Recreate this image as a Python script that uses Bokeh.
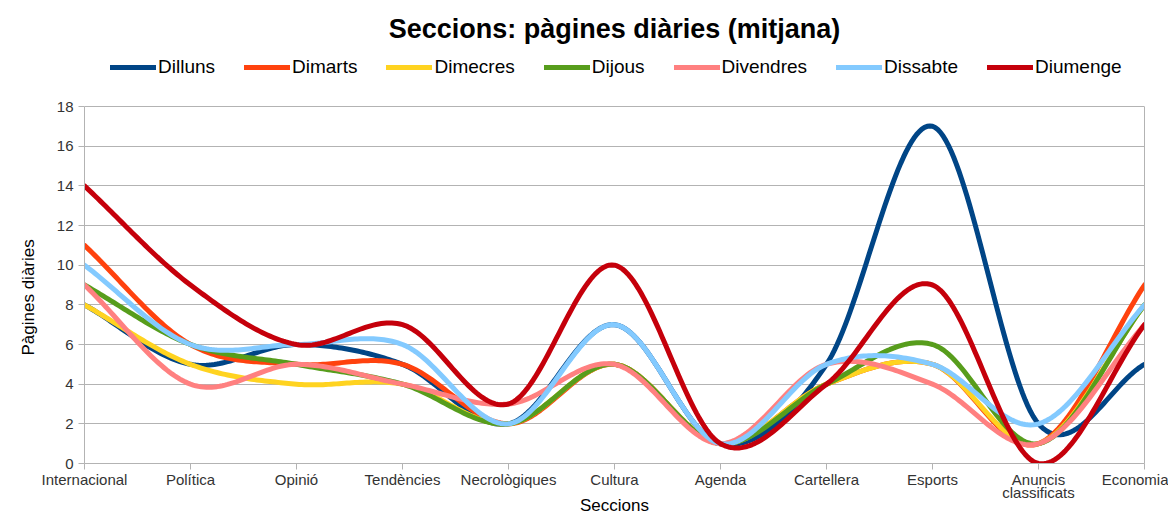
import numpy as np
from bokeh.plotting import figure
from bokeh.models import Range1d, FixedTicker, Legend, LegendItem, LinearAxis, Title
from bokeh.embed import file_html
from bokeh.resources import INLINE

categories = ["Internacional", "Política", "Opinió", "Tendències", "Necrològiques",
              "Cultura", "Agenda", "Cartellera", "Esports", "Anuncis\nclassificats", "Economia"]
y_ticks = [0, 2, 4, 6, 8, 10, 12, 14, 16, 18]

dilluns   = [8, 5, 6, 5, 2, 7, 1, 5, 17, 2, 5]
dimarts   = [11, 6, 5, 5, 2, 5, 1, 4, 5, 1, 9]
dimecres  = [8, 5, 4, 4, 2, 5, 1, 4, 5, 1, 8]
dijous    = [9, 6, 5, 4, 2, 5, 1, 4, 6, 1, 8]
divendres = [9, 4, 5, 4, 3, 5, 1, 5, 4, 1, 7]
dissabte  = [10, 6, 6, 6, 2, 7, 1, 5, 5, 2, 8]
diumenge  = [14, 9, 6, 7, 3, 10, 1, 4, 9, 0, 7]

series_names = ["Dilluns", "Dimarts", "Dimecres", "Dijous", "Divendres", "Dissabte", "Diumenge"]
series_vals = [dilluns, dimarts, dimecres, dijous, divendres, dissabte, diumenge]
colors = ["#004586", "#ff420e", "#ffd320", "#579d1c", "#ff8080", "#83caff", "#c5000b"]

Y_MAX = 18
PX_PER_UNIT = 357 / 18.0
EXTRA_PX = 61
FW = 1060
FH = 357 + EXTRA_PX
Y_TOP = Y_MAX + EXTRA_PX / PX_PER_UNIT


def smooth_curve(xs, ys, n=40):
    """Catmull-Rom (smoothed line) through every data point."""
    xs = np.asarray(xs, float); ys = np.asarray(ys, float)
    m = len(ys)
    tang = np.zeros(m)
    tang[1:-1] = (ys[2:] - ys[:-2]) / 2.0
    tang[0] = ys[1] - ys[0]
    tang[-1] = ys[-1] - ys[-2]
    ox, oy = [], []
    for i in range(m - 1):
        t = np.linspace(0, 1, n, endpoint=(i == m - 2))
        h00 = 2 * t**3 - 3 * t**2 + 1
        h10 = t**3 - 2 * t**2 + t
        h01 = -2 * t**3 + 3 * t**2
        h11 = t**3 - t**2
        dx = xs[i + 1] - xs[i]
        ox.extend(xs[i] + t * dx)
        oy.extend(h00 * ys[i] + h10 * tang[i] + h01 * ys[i + 1] + h11 * tang[i + 1])
    return ox, oy


xpos = list(range(len(categories)))

p = figure(frame_width=FW, frame_height=FH, output_backend="svg", toolbar_location=None,
           x_range=Range1d(0, 10), y_range=Range1d(0, Y_TOP),
           min_border_left=84, min_border_right=24, min_border_bottom=40, min_border_top=45)
p.title.text = "Seccions: pàgines diàries (mitjana)"
p.title.align = "center"
p.title.text_font = "Liberation Sans"
p.title.text_font_size = "27px"
p.title.text_font_style = "bold"
p.title.text_color = "black"
p.title.standoff = 4

items = []
for name, vals, col in zip(series_names, series_vals, colors):
    sx, sy = smooth_curve(xpos, vals)
    r = p.line(sx, sy, line_color=col, line_width=5, line_join="round", line_cap="round")
    items.append(LegendItem(label=name, renderers=[r]))

legend = Legend(items=items, orientation="horizontal", location=(26, FH - 33),
                label_text_font="Liberation Sans", label_text_font_size="19px",
                label_text_color="black",
                label_standoff=2, glyph_width=46, glyph_height=22, spacing=29, padding=2, margin=0,
                border_line_color=None, background_fill_alpha=0)
p.add_layout(legend, "center")

right_axis = LinearAxis(ticker=FixedTicker(ticks=[]), bounds=(0, Y_MAX),
                        axis_line_color="#b3b3b3", major_label_text_font_size="0px",
                        major_tick_line_color=None, minor_tick_line_color=None)
p.add_layout(right_axis, "right")

ylabel = Title(text="Pàgines diàries", align="left", offset=108,
               text_font="Liberation Sans", text_font_size="17px",
               text_font_style="normal", text_color="black", standoff=32)
p.add_layout(ylabel, "left")

p.xaxis.ticker = FixedTicker(ticks=xpos)
p.xaxis.major_label_overrides = {i: c for i, c in enumerate(categories)}
p.yaxis.ticker = FixedTicker(ticks=y_ticks)
p.yaxis.bounds = (0, Y_MAX)
p.xaxis.axis_label = "Seccions"
for ax in (p.xaxis[0], p.yaxis[0]):
    ax.axis_label_text_font = "Liberation Sans"
    ax.axis_label_text_font_size = "17px"
    ax.axis_label_text_font_style = "normal"
    ax.axis_label_text_color = "black"
    ax.major_label_text_font = "Liberation Sans"
    ax.major_label_text_font_size = "15px"
    ax.major_label_text_color = "#333333"
    ax.major_label_text_line_height = 0.8
    ax.axis_line_color = "#b3b3b3"
    ax.major_tick_line_color = "#b3b3b3"
    ax.major_tick_in = 0
    ax.major_tick_out = 6
    ax.minor_tick_line_color = None
p.xaxis.axis_label_standoff = -8
p.xaxis.major_label_standoff = 1

p.xgrid.grid_line_color = None
p.ygrid.grid_line_color = "#b3b3b3"
p.outline_line_color = None
p.background_fill_color = "white"
p.border_fill_color = "white"

open("out.html", "w").write(file_html(p, INLINE))
